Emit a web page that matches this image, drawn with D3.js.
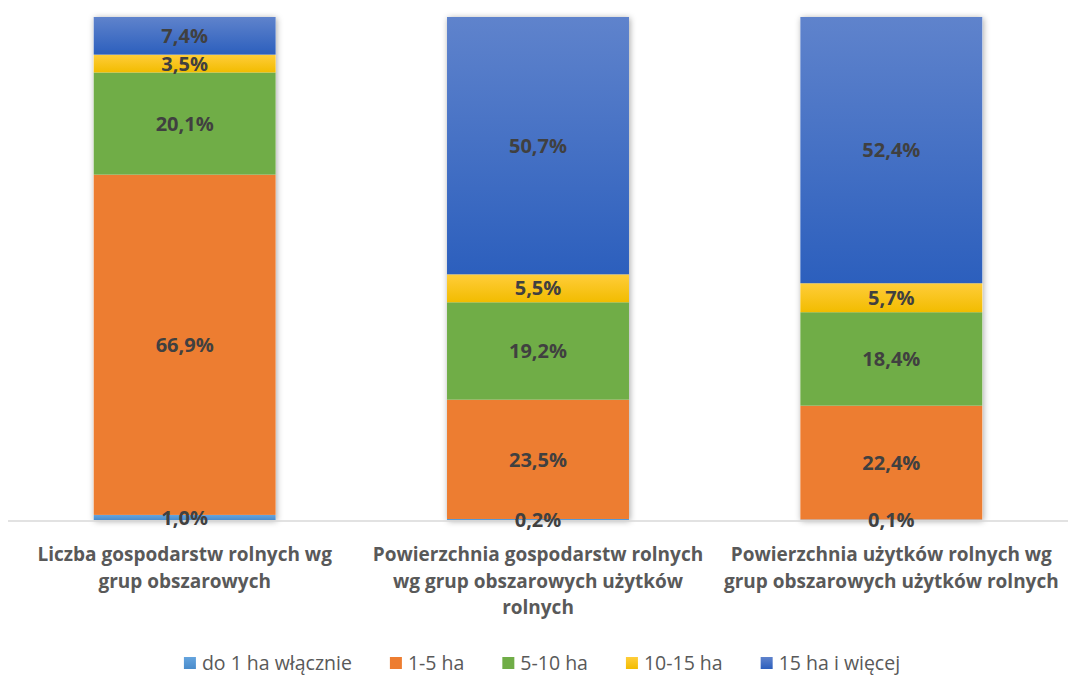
<!DOCTYPE html>
<html>
<head>
<meta charset="utf-8">
<script src="https://cdn.jsdelivr.net/npm/d3@7"></script>
<style>
  body { margin: 0; background: #fff; }
  svg { display: block; font-family: "Open Sans", "Noto Sans", sans-serif; }
</style>
</head>
<body>
<div id="chart"></div>
<script>
// categories (each one is a list of label lines)
var categories = [
  ["Liczba gospodarstw rolnych wg", "grup obszarowych"],
  ["Powierzchnia gospodarstw rolnych", "wg grup obszarowych użytków", "rolnych"],
  ["Powierzchnia użytków rolnych wg", "grup obszarowych użytków rolnych"]
];
var series = ["do 1 ha włącznie", "1-5 ha", "5-10 ha", "10-15 ha", "15 ha i więcej"];
// values in %, one array per series, in category order
var do1   = [1.0, 0.2, 0.1];
var ha1_5 = [66.9, 23.5, 22.4];
var ha5_10 = [20.1, 19.2, 18.4];
var ha10_15 = [3.5, 5.5, 5.7];
var ha15 = [7.4, 50.7, 52.4];

var values = [do1, ha1_5, ha5_10, ha10_15, ha15];
var colors = [
  ["#65a4de", "#4a8ccb"],
  ["#ed7d31", "#ed7d31"],
  ["#70ad47", "#70ad47"],
  ["#ffcd3a", "#f2bc00"],
  ["#5f83cc", "#2c5fbd"]
];

var width = 1070, height = 675;
var plot = {left: 8, right: 1068, top: 17, bottom: 520};

var svg = d3.select("#chart").append("svg")
    .attr("width", width)
    .attr("height", height);

var defs = svg.append("defs");
colors.forEach(function(c, i) {
  var g = defs.append("linearGradient")
      .attr("id", "grad" + i)
      .attr("x1", 0).attr("y1", 0).attr("x2", 0).attr("y2", 1);
  g.append("stop").attr("offset", "0%").attr("stop-color", c[0]);
  g.append("stop").attr("offset", "100%").attr("stop-color", c[1]);
});
var shadow = defs.append("filter").attr("id", "shadow")
    .attr("x", "-10%").attr("y", "-10%").attr("width", "120%").attr("height", "120%");
shadow.append("feDropShadow")
    .attr("dx", 1).attr("dy", 1)
    .attr("stdDeviation", 3)
    .attr("flood-color", "#000")
    .attr("flood-opacity", 0.35);

// build rows for stack
var rows = categories.map(function(c, i) {
  var r = {idx: i};
  series.forEach(function(s, j) { r[s] = values[j][i]; });
  return r;
});

var stack = d3.stack().keys(series).offset(d3.stackOffsetExpand);
var stacked = stack(rows);

var x = d3.scaleBand()
    .domain(d3.range(categories.length))
    .range([plot.left, plot.right])
    .paddingInner(0.485)
    .paddingOuter(0.2425);

var y = d3.scaleLinear().domain([0, 1]).range([plot.bottom, plot.top]);

// bars with shadow
var barGroup = svg.append("g");
barGroup.selectAll("rect.shadowbox")
    .data(rows)
  .enter().append("rect")
    .attr("x", function(d) { return x(d.idx); })
    .attr("y", plot.top)
    .attr("width", x.bandwidth())
    .attr("height", plot.bottom - plot.top)
    .attr("fill", "#fff")
    .attr("filter", "url(#shadow)");

var layers = barGroup.selectAll("g.layer")
    .data(stacked)
  .enter().append("g")
    .attr("class", "layer")
    .attr("fill", function(d, i) { return "url(#grad" + i + ")"; });

layers.selectAll("rect")
    .data(function(d) { return d; })
  .enter().append("rect")
    .attr("x", function(d) { return x(d.data.idx); })
    .attr("y", function(d) { return y(d[1]); })
    .attr("width", x.bandwidth())
    .attr("height", function(d) { return y(d[0]) - y(d[1]); });

// axis line
svg.append("line")
    .attr("x1", plot.left).attr("x2", plot.right)
    .attr("y1", plot.bottom + 1).attr("y2", plot.bottom + 1)
    .attr("stroke", "#d9d9d9")
    .attr("stroke-width", 1.5);

// data labels
var fmt = function(v) { return v.toFixed(1).replace(".", ",") + "%"; };
stacked.forEach(function(layer, j) {
  svg.append("g").selectAll("text")
      .data(layer)
    .enter().append("text")
      .attr("x", function(d) { return x(d.data.idx) + x.bandwidth() / 2; })
      .attr("y", function(d) { return (y(d[0]) + y(d[1])) / 2; })
      .attr("dy", "0.36em")
      .attr("text-anchor", "middle")
      .attr("font-size", "20px")
      .attr("font-weight", "bold")
      .attr("fill", "#404040")
      .text(function(d) { return fmt(values[j][d.data.idx]); });
});

// category labels
var catG = svg.append("g");
categories.forEach(function(lines, i) {
  var t = catG.append("text")
      .attr("text-anchor", "middle")
      .attr("font-size", "19px")
      .attr("font-weight", "bold")
      .attr("fill", "#595959");
  lines.forEach(function(l, k) {
    t.append("tspan")
        .attr("x", x(i) + x.bandwidth() / 2)
        .attr("y", 561 + k * 26.5)
        .text(l);
  });
});

// legend
var legend = svg.append("g");
var lx = 0, gap = 38;
series.forEach(function(s, i) {
  var item = legend.append("g").attr("transform", "translate(" + lx + ",0)");
  item.append("rect")
      .attr("x", 0).attr("y", -6)
      .attr("width", 12).attr("height", 12)
      .attr("fill", "url(#grad" + i + ")");
  var t = item.append("text")
      .attr("x", 18)
      .attr("dy", "0.35em")
      .attr("font-size", "19.5px")
      .attr("fill", "#595959")
      .text(s);
  lx += 18 + t.node().getComputedTextLength() + gap;
});
var legW = lx - gap;
legend.attr("transform", "translate(" + (542 - legW / 2) + ",663)");
</script>
</body>
</html>
